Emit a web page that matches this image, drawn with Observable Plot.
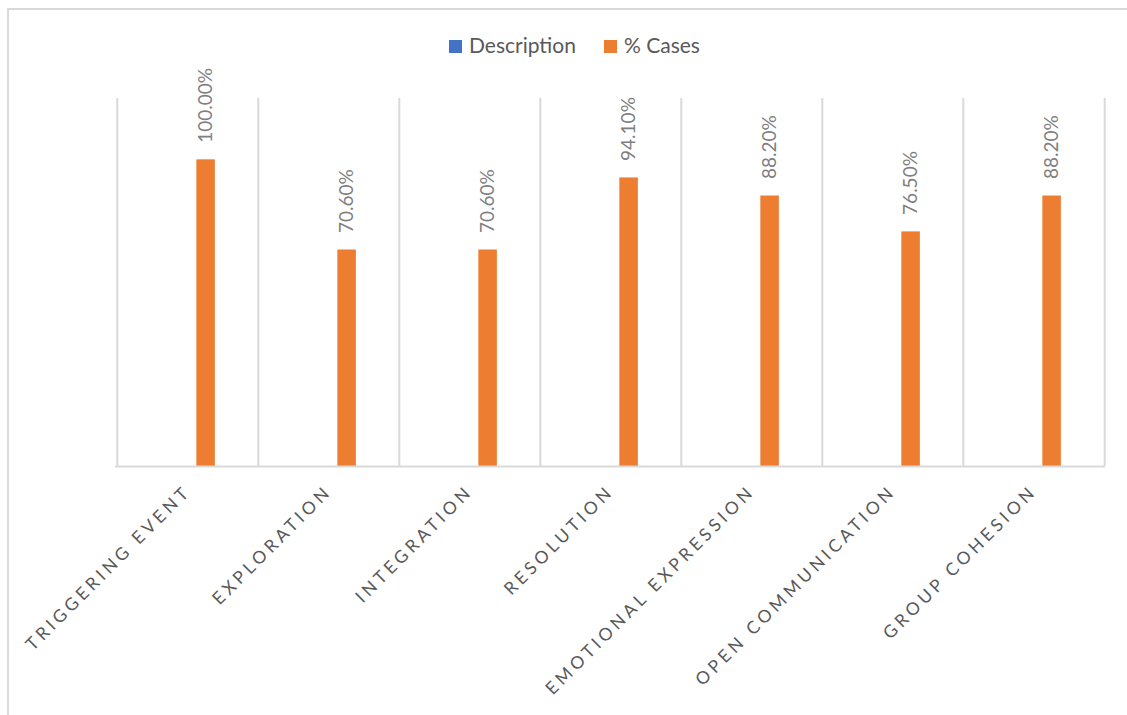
<!DOCTYPE html>
<html>
<head>
<meta charset="utf-8">
<script src="https://cdn.jsdelivr.net/npm/d3@7"></script>
<script src="https://cdn.jsdelivr.net/npm/@observablehq/plot@0.6"></script>
<style>
  html, body { margin: 0; padding: 0; background: #fff; }
  #wrap { position: relative; width: 1127px; height: 715px; overflow: hidden; font-family: Lato, "Open Sans", sans-serif; }
  #frame { position: absolute; left: 7px; top: 8px; right: -10px; bottom: -10px; border-left: 2px solid #d9d9d9; border-top: 2px solid #d9d9d9; pointer-events: none; }
  #legend { position: absolute; left: 0; top: 0; width: 1127px; height: 90px; z-index: 2; }
  .item { position: absolute; top: 32px; font-size: 21px; color: #595959; line-height: 26px; white-space: nowrap; }
  .sw { display: inline-block; width: 13px; height: 13px; margin-right: 7px; vertical-align: 0px; }
  #chart { position: absolute; left: 0; top: 0; z-index: 1; }
  #chart svg { overflow: visible; }
</style>
</head>
<body>
<div id="wrap">
  <div id="frame"></div>
  <div id="chart"></div>
  <div id="legend"></div>
</div>
<script>
const categories = ["TRIGGERING EVENT", "EXPLORATION", "INTEGRATION", "RESOLUTION", "EMOTIONAL EXPRESSION", "OPEN COMMUNICATION", "GROUP COHESION"];
const seriesNames = ["Description", "% Cases"];
const seriesColors = ["#4472C4", "#ED7D31"];
const descriptionValues = [0, 0, 0, 0, 0, 0, 0];
const casesValues = [100.0, 70.6, 70.6, 94.1, 88.2, 76.5, 88.2];

const cases = categories.map((c, i) => ({category: c, value: casesValues[i]}));
const desc = categories.map((c, i) => ({category: c, value: descriptionValues[i]}));

// Legend
const legend = document.getElementById("legend");
const legendPos = [449, 604];
seriesNames.forEach((name, i) => {
  const d = document.createElement("div");
  d.className = "item";
  d.style.left = legendPos[i] + "px";
  d.innerHTML = `<span class="sw" style="background:${seriesColors[i]}"></span>${name}`;
  legend.appendChild(d);
});

const W = 1127, H = 715;
const mL = 115, mR = 22;
const bw = (W - mL - mR) / categories.length;

const svg = Plot.plot({
  width: W,
  height: H,
  marginLeft: mL,
  marginRight: mR,
  marginTop: 98,
  marginBottom: 249,
  style: {fontFamily: "Lato, 'Open Sans', sans-serif", background: "transparent", overflow: "visible"},
  x: {domain: categories, padding: 0, label: null},
  y: {domain: [0, 120], axis: null},
  marks: [
    Plot.ruleX(categories, {x: d => d, dx: -bw / 2, stroke: "#d9d9d9", strokeWidth: 2}),
    Plot.ruleX([categories[categories.length - 1]], {x: d => d, dx: bw / 2, stroke: "#d9d9d9", strokeWidth: 2}),
    Plot.barY(desc, {x: "category", y: "value", fill: seriesColors[0], insetLeft: bw * 0.426, insetRight: bw * 0.440}),
    Plot.barY(cases, {x: "category", y: "value", fill: seriesColors[1], insetLeft: bw * 0.561, insetRight: bw * 0.305}),
    Plot.ruleY([0], {stroke: "#d9d9d9", strokeWidth: 2}),
    Plot.text(cases, {x: "category", y: "value", text: d => d.value.toFixed(2) + "%", rotate: -90, textAnchor: "start", dx: 18, dy: -17, fill: "#7f7f7f", fontSize: 19}),
    Plot.axisX({tickSize: 0, tickPadding: 22, tickRotate: -45, fontSize: 17.5, fill: "#595959", label: null})
  ]
});
d3.select(svg).selectAll('[aria-label="x-axis tick label"] text').attr("letter-spacing", "3.8px");
document.getElementById("chart").appendChild(svg);
</script>
</body>
</html>
